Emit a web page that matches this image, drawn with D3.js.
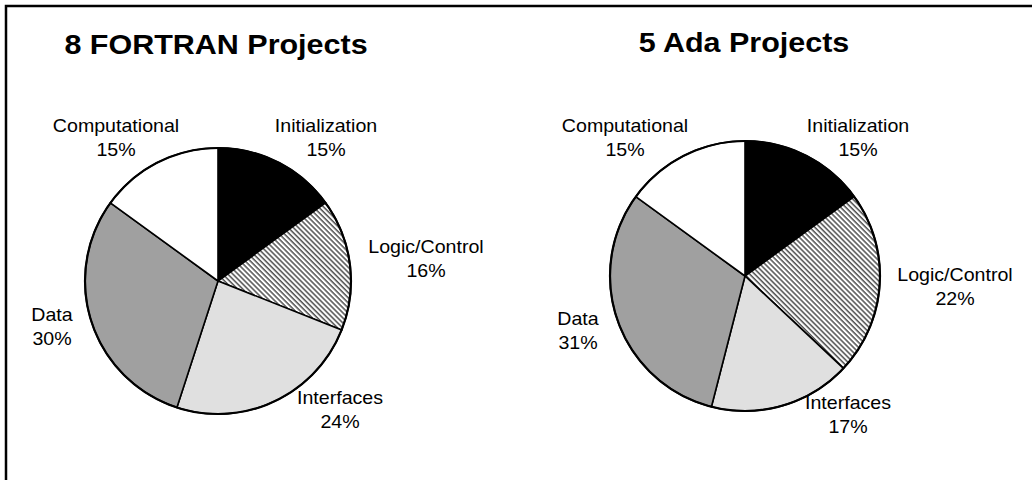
<!DOCTYPE html>
<html>
<head>
<meta charset="utf-8">
<script src="https://cdn.jsdelivr.net/npm/d3@7.9.0/dist/d3.min.js"></script>
<style>
  html, body { margin: 0; padding: 0; background: #fff; }
  svg { display: block; }
  text { font-family: "Liberation Sans", Arial, sans-serif; fill: #000; }
</style>
</head>
<body>
<svg width="1032" height="480"></svg>
<script>
// chart data
const categories = ['Initialization', 'Logic/Control', 'Interfaces', 'Data', 'Computational'];
const fortranValues = [15, 16, 24, 30, 15];
const adaValues = [15, 22, 17, 31, 15];
const titles = ['8 FORTRAN Projects', '5 Ada Projects'];

const svg = d3.select('svg');

// diagonal hatch for Logic/Control
const defs = svg.append('defs');
const hatch = defs.append('pattern')
  .attr('id', 'hatch')
  .attr('patternUnits', 'userSpaceOnUse')
  .attr('width', 3.6).attr('height', 3.6)
  .attr('patternTransform', 'rotate(-45)');
hatch.append('rect').attr('width', 3.6).attr('height', 3.6).attr('fill', '#fff');
hatch.append('line')
  .attr('x1', 1).attr('y1', 0).attr('x2', 1).attr('y2', 3.6)
  .attr('stroke', '#222').attr('stroke-width', 1.2);

const fills = ['#000', 'url(#hatch)', '#e0e0e0', '#a0a0a0', '#fff'];

// frame (left and top edges visible)
svg.append('path')
  .attr('d', 'M6,480 L6,6 L1032,6')
  .attr('fill', 'none')
  .attr('stroke', '#000')
  .attr('stroke-width', 2.5);

const pie = d3.pie().sort(null).value(d => d);

// label anchor positions per pie (center x, baseline of first line)
const charts = [
  {
    values: fortranValues, cx: 218, cy: 281, r: 133,
    title: { x: 216, y: 54 },
    labels: [[326, 132], [426, 253], [340, 404], [52, 321], [116, 132]]
  },
  {
    values: adaValues, cx: 745, cy: 276, r: 135,
    title: { x: 744, y: 52 },
    labels: [[858, 132], [955, 281], [848, 409], [578, 325], [625, 132]]
  }
];

charts.forEach((c, ci) => {
  const g = svg.append('g').attr('transform', `translate(${c.cx},${c.cy})`);
  const arc = d3.arc().innerRadius(0).outerRadius(c.r);

  g.selectAll('path.slice')
    .data(pie(c.values))
    .join('path')
    .attr('class', 'slice')
    .attr('d', arc)
    .attr('fill', (d, i) => fills[i])
    .attr('stroke', '#000')
    .attr('stroke-width', 1.6)
    .attr('stroke-linejoin', 'round');

  g.append('circle')
    .attr('r', c.r)
    .attr('fill', 'none')
    .attr('stroke', '#000')
    .attr('stroke-width', 2.2);

  svg.append('text')
    .attr('text-anchor', 'middle')
    .attr('font-weight', 'bold')
    .attr('font-size', 28.5)
    .attr('transform', `translate(${c.title.x},${c.title.y}) scale(1.07,1)`)
    .text(titles[ci]);

  c.labels.forEach(([lx, ly], i) => {
    const t = svg.append('text')
      .attr('text-anchor', 'middle')
      .attr('font-size', 18.5)
      .attr('transform', `translate(${lx},${ly}) scale(1.06,1)`);
    t.append('tspan').attr('x', 0).attr('y', 0).text(categories[i]);
    t.append('tspan').attr('x', 0).attr('y', 24).text(c.values[i] + '%');
  });
});
</script>
</body>
</html>
